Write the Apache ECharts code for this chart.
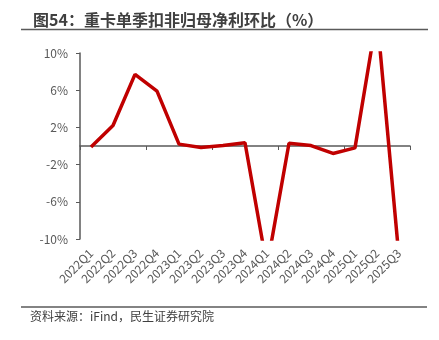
<!DOCTYPE html>
<html>
<head>
<meta charset="utf-8">
<script src="https://cdn.jsdelivr.net/npm/echarts@6/dist/echarts.min.js"></script>
<style>
html,body{margin:0;padding:0;background:#fff;}
#chart{width:439px;height:340px;}
</style>
</head>
<body>
<div id="chart"></div>
<script>
var titleText = '图54：重卡单季扣非归母净利环比（%）';
var sourceText = '资料来源：iFind，民生证券研究院';
var categories = ['2022Q1','2022Q2','2022Q3','2022Q4','2023Q1','2023Q2','2023Q3','2023Q4','2024Q1','2024Q2','2024Q3','2024Q4','2025Q1','2025Q2','2025Q3'];
var values = [-0.1, 2.2, 7.7, 5.9, 0.2, -0.15, 0.05, 0.35, -13, 0.3, 0.05, -0.8, -0.2, 14, -12];
var yMin = -10, yMax = 10, yInterval = 4;

var font = '"Noto Sans CJK SC", "Noto Sans", sans-serif';
var chart = echarts.init(document.getElementById('chart'), null, {renderer: 'canvas'});
chart.setOption({
  animation: false,
  backgroundColor: '#ffffff',
  title: {
    text: titleText,
    left: 28, top: 7,
    textStyle: {fontSize: 16, fontWeight: 'bold', color: '#404040', fontFamily: font}
  },
  graphic: [
    {type: 'line', shape: {x1: 21, y1: 29.5, x2: 428, y2: 29.5}, style: {stroke: '#5a5a5a', lineWidth: 1.5}},
    {type: 'line', shape: {x1: 21, y1: 307, x2: 427, y2: 307}, style: {stroke: '#5a5a5a', lineWidth: 1.5}},
    {type: 'text', left: 30, top: 310, style: {text: sourceText, fontSize: 12, fill: '#404040', fontFamily: font}}
  ],
  grid: {left: 80, right: 29, top: 53, bottom: 101, containLabel: false},
  xAxis: [
    {
      type: 'category', data: categories, boundaryGap: true,
      axisLine: {show: true, onZero: true, lineStyle: {color: '#595959', width: 1.5}},
      axisTick: {show: true, length: 4, lineStyle: {color: '#595959', width: 1}},
      axisLabel: {show: false},
      splitLine: {show: false}
    },
    {
      type: 'category', data: categories, boundaryGap: true, position: 'bottom',
      axisLine: {show: false, onZero: false},
      axisTick: {show: false},
      axisLabel: {show: true, rotate: 45, margin: 12, fontSize: 12, color: '#595959', fontFamily: font, interval: 0},
      splitLine: {show: false}
    }
  ],
  yAxis: {
    type: 'value', min: yMin, max: yMax, interval: yInterval,
    axisLine: {show: true, lineStyle: {color: '#595959', width: 1.5}},
    axisTick: {show: true, length: 4, lineStyle: {color: '#595959', width: 1}},
    axisLabel: {formatter: '{value}%', margin: 12, fontSize: 12, color: '#595959', fontFamily: font},
    splitLine: {show: false}
  },
  series: [{
    type: 'line', data: values, xAxisIndex: 0,
    symbol: 'none', clip: true,
    lineStyle: {color: '#C00000', width: 3.5},
    itemStyle: {color: '#C00000'}
  }]
});
</script>
</body>
</html>
